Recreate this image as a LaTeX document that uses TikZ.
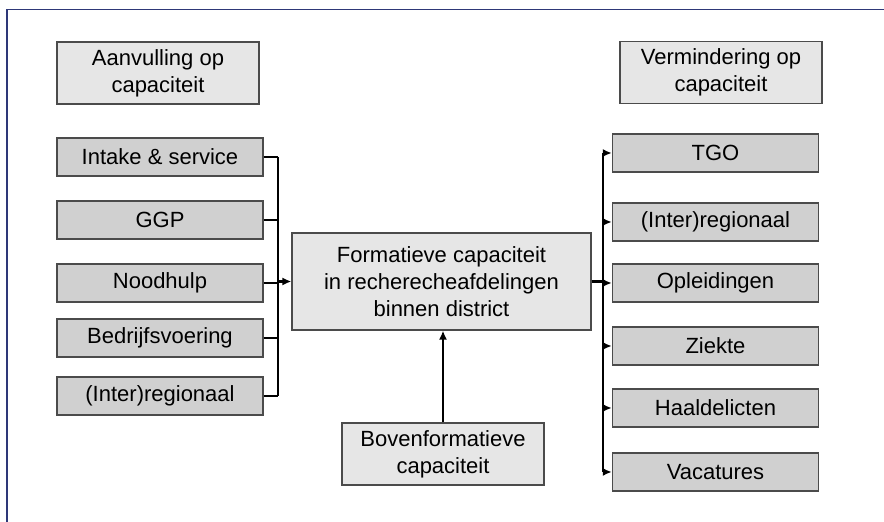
\documentclass[tikz,border=0pt]{standalone}
\usepackage{fontspec}
\setmainfont{Liberation Sans}
\usetikzlibrary{arrows.meta}
\definecolor{framecol}{RGB}{46,56,120}
\definecolor{lightfill}{RGB}{230,230,230}
\definecolor{darkfill}{RGB}{208,208,208}
\definecolor{edgecol}{RGB}{75,75,75}

\begin{document}
\begin{tikzpicture}[x=0.5pt,y=-0.5pt,>={Latex[length=4.5pt,width=4pt]},
  headbox/.style={draw=edgecol,fill=lightfill,line width=0.6pt,minimum width=101pt,
    minimum height=31pt,align=center,inner sep=0pt,font=\fontsize{11}{13.5}\selectfont},
  itembox/.style={draw=edgecol,fill=darkfill,line width=0.7pt,minimum width=103pt,
    minimum height=19pt,inner sep=0pt,font=\fontsize{11}{13.5}\selectfont},
  line/.style={line width=1.3pt}]
  \useasboundingbox (0,0) rectangle (884,522);
  \draw[framecol,line width=0.8pt] (7,522) -- (7,9.5) -- (884,9.5);

  % headers
  \node[headbox] (aanv) at (158,73) {Aanvulling op\\capaciteit};
  \node[headbox] (verm) at (721,72.5) {Vermindering op\\capaciteit};

  % central boxes
  \node[headbox,minimum width=149.5pt,minimum height=48.5pt] (main) at (441.5,281.5)
    {Formatieve capaciteit\\in recherecheafdelingen\\binnen district};
  \node[headbox] (boven) at (443,454) {Bovenformatieve\\capaciteit};

  % inflow
  \coordinate (lbus) at (278,281.5);
  \foreach \y/\t [count=\i] in {157/Intake \& service,220/GGP,283/Noodhulp,
      338/Bedrijfsvoering,396/(Inter)regionaal}
  {
    \node[itembox] (in\i) at (160,\y) {\t};
    \draw[line] (in\i.east) -- (in\i.east -| lbus);
  }
  \draw[line] (in1.east -| lbus) -- (in5.east -| lbus);
  \draw[line,->] (lbus) -- (main.west);

  % outflow
  \coordinate (rbus) at (603,281.5);
  \draw[line] (main.east) -- (rbus);
  \foreach \y/\t [count=\i] in {153/TGO,222/(Inter)regionaal,283/Opleidingen,
      346/Ziekte,408/Haaldelicten,472/Vacatures}
  {
    \node[itembox] (out\i) at (715.5,\y) {\t};
    \draw[line,->] (out\i.west -| rbus) -- (out\i.west);
  }
  \draw[line] (out1.west -| rbus) -- (out6.west -| rbus);

  \draw[line,->] (boven.north) -- (boven.north |- main.south);
\end{tikzpicture}
\end{document}
